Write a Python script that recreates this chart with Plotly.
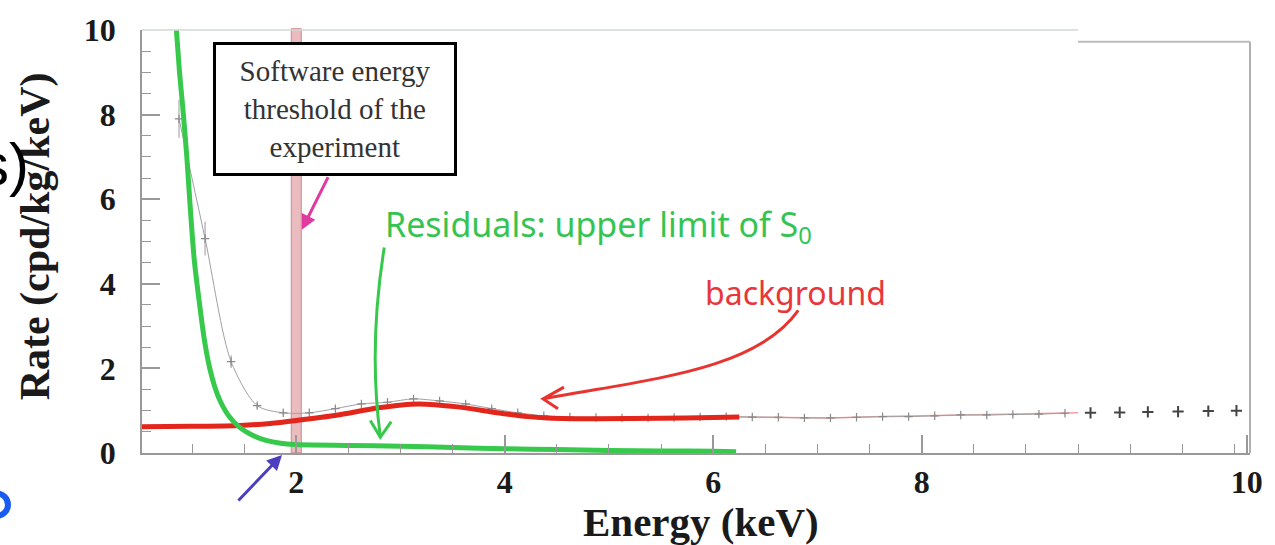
import plotly.graph_objects as go

# ---------------- data ----------------
# measured spectrum (grey points, 0.25 keV bins)
data_energy = [0.875, 1.125, 1.375, 1.625, 1.875, 2.125, 2.375, 2.625, 2.875, 3.125,
               3.375, 3.625, 3.875, 4.125, 4.375, 4.625, 4.875, 5.125, 5.375, 5.625,
               5.875, 6.125, 6.375, 6.625, 6.875, 7.125, 7.375, 7.625, 7.875, 8.125,
               8.375, 8.625, 8.875, 9.125, 9.375]
data_rate = [7.9, 5.07, 2.16, 1.12, 0.95, 0.95, 1.05, 1.16, 1.2, 1.28,
             1.23, 1.16, 1.05, 0.95, 0.88, 0.85, 0.84, 0.83, 0.83, 0.84,
             0.85, 0.86, 0.85, 0.845, 0.83, 0.83, 0.845, 0.86, 0.86, 0.88,
             0.9, 0.9, 0.91, 0.92, 0.94]
data_err = [0.45, 0.4, 0.15, 0.06, 0.05, 0.04, 0.04, 0.04, 0.04, 0.04,
            0.04, 0.04, 0.04, 0.04, 0.03, 0.03, 0.03, 0.03, 0.03, 0.03,
            0.03, 0.03, 0.03, 0.03, 0.03, 0.03, 0.03, 0.03, 0.03, 0.03,
            0.03, 0.03, 0.03, 0.03, 0.03]

# points of the spliced right-hand part of the picture
right_energy = [9.62, 9.9, 10.17, 10.46, 10.75, 11.02]
right_rate = [0.95, 0.96, 0.97, 0.98, 0.99, 1.0]

# background fit (thick red)
bkg_energy = [0.52, 1.0, 1.46, 1.75, 2.0, 2.4, 2.79, 3.17, 3.55, 3.93, 4.22, 4.41, 4.89, 5.5, 6.0, 6.25]
bkg_rate = [0.62, 0.63, 0.65, 0.7, 0.77, 0.9, 1.07, 1.16, 1.09, 0.95, 0.86, 0.83, 0.81, 0.82, 0.84, 0.85]

# background continuation (thin)
bkg_ext_energy = [6.25, 6.625, 7.125, 7.625, 8.125, 8.625, 9.125, 9.5]
bkg_ext_rate = [0.85, 0.845, 0.83, 0.86, 0.88, 0.9, 0.92, 0.95]

# residuals, upper limit of S0 (thick green)
res_energy = [0.85, 0.88, 0.91, 0.95, 0.98, 1.02, 1.07, 1.12, 1.17, 1.22, 1.27, 1.36, 1.46,
              1.58, 1.71, 1.85, 1.98, 2.5, 3.0, 3.5, 4.0, 4.5, 5.0, 5.5, 6.0, 6.22]
res_rate = [10.0, 9.0, 8.2, 7.0, 5.9, 4.6, 3.56, 2.65, 2.0, 1.55, 1.23, 0.85, 0.6,
            0.42, 0.3, 0.23, 0.2, 0.18, 0.16, 0.13, 0.1, 0.08, 0.06, 0.05, 0.04, 0.03]

threshold_keV = 2.0
threshold_halfwidth = 0.048

x_tickvals = [2, 4, 6, 8, 11.12]
x_ticktext = ["2", "4", "6", "8", "10"]
y_tickvals = [0, 2, 4, 6, 8, 10]
y_ticktext = ["0", "2", "4", "6", "8", "10"]

# ---------------- layout helpers (pixel -> paper) ----------------
W, H = 1275, 545
L, R, T, B = 142, 17, 23, 92
PW, PH = W - L - R, H - T - B


def px(x):
    return (x - L) / PW


def py(y):
    return (H - B - y) / PH


def P(x, y):
    return f"{px(x):.5f},{py(y):.5f}"


serif = "Liberation Serif"
sans = "Noto Sans"

fig = go.Figure()

# thin background continuation
fig.add_trace(go.Scatter(x=bkg_ext_energy, y=bkg_ext_rate, mode="lines",
                         line=dict(color="#f2a0a0", width=1.5), hoverinfo="skip"))
# measured data
fig.add_trace(go.Scatter(x=data_energy, y=data_rate, mode="lines+markers",
                         line=dict(color="#a0a0a0", width=1, shape="spline", smoothing=0.8),
                         marker=dict(symbol="cross-thin", size=6, line=dict(color="#8a8a8a", width=1.2)),
                         error_y=dict(type="data", array=data_err, color="#9a9a9a", thickness=1, width=0)))
# right part points
fig.add_trace(go.Scatter(x=right_energy, y=right_rate, mode="markers",
                         marker=dict(symbol="cross-thin", size=8, line=dict(color="#444", width=2))))
# background
fig.add_trace(go.Scatter(x=bkg_energy, y=bkg_rate, mode="lines",
                         line=dict(color="#e3261c", width=5, shape="spline", smoothing=0.8)))
# residuals
fig.add_trace(go.Scatter(x=res_energy, y=res_rate, mode="lines",
                         line=dict(color="#37c94b", width=5, shape="spline", smoothing=0.6)))

shapes = []
# threshold band
shapes.append(dict(type="rect", xref="x", yref="paper",
                   x0=threshold_keV - threshold_halfwidth, x1=threshold_keV + threshold_halfwidth,
                   y0=0, y1=1.003, fillcolor="rgba(222,150,156,0.65)",
                   line=dict(color="#c98a90", width=1), layer="below"))
# frame pieces
shapes.append(dict(type="line", xref="x", yref="paper", x0=0.52, x1=9.5, y0=1, y1=1,
                   line=dict(color="#d3d9d3", width=1.5)))
shapes.append(dict(type="line", xref="x", yref="paper", x0=9.5, x1=11.15, y0=py(35), y1=py(35),
                   line=dict(color="#bcbcbc", width=2)))
shapes.append(dict(type="line", xref="paper", yref="paper", x0=1, x1=1, y0=0, y1=py(35),
                   line=dict(color="#b0b0b0", width=2)))
# green curved arrow
shapes.append(dict(type="path", xref="paper", yref="paper",
                   path=f"M {P(386,244)} Q {P(370,345)} {P(382,436)}",
                   line=dict(color="#37c94b", width=3)))
shapes.append(dict(type="path", xref="paper", yref="paper",
                   path=f"M {P(372,420)} L {P(382,437)} L {P(393,421)}",
                   line=dict(color="#37c94b", width=3)))
# red curved arrow
shapes.append(dict(type="path", xref="paper", yref="paper",
                   path=f"M {P(803,308)} C {P(760,370)} {P(650,378)} {P(546,398)}",
                   line=dict(color="#e8332f", width=3)))
shapes.append(dict(type="path", xref="paper", yref="paper",
                   path=f"M {P(567,386)} L {P(546,398)} L {P(561,408)}",
                   line=dict(color="#e8332f", width=3)))
# blue fragment at bottom-left
shapes.append(dict(type="circle", xref="paper", yref="paper",
                   x0=px(-16), x1=px(7), y0=py(517), y1=py(494),
                   line=dict(color="#1a5cf2", width=6), fillcolor="rgba(0,0,0,0)"))

annotations = []
# threshold box
annotations.append(dict(xref="paper", yref="paper", x=px(336.5), y=py(103),
                        xanchor="center", yanchor="middle",
                        text="Software energy<br>threshold of the<br>experiment",
                        showarrow=False, font=dict(family=serif, size=29, color="#333"),
                        bgcolor="white", bordercolor="black", borderwidth=3, borderpad=0,
                        width=238, height=128, align="center"))
# magenta arrow
annotations.append(dict(xref="paper", yref="paper", x=px(303), y=py(226), text="",
                        showarrow=True, ax=27, ay=-54, arrowhead=2, arrowsize=1,
                        arrowwidth=3, arrowcolor="#e03aa0"))
# purple arrow
annotations.append(dict(xref="paper", yref="paper", x=px(283), y=py(455), text="",
                        showarrow=True, ax=-45, ay=47, arrowhead=2, arrowsize=1,
                        arrowwidth=3, arrowcolor="#4b3fc0"))
# green label
annotations.append(dict(xref="paper", yref="paper", x=px(385), y=py(222), xanchor="left",
                        yanchor="middle", showarrow=False,
                        text="Residuals: upper limit of S<sub>0</sub>",
                        font=dict(family=sans, size=34, color="#35c452")))
# red label
annotations.append(dict(xref="paper", yref="paper", x=px(800), y=py(290), xanchor="center",
                        yanchor="middle", showarrow=False, text="background",
                        font=dict(family=sans, size=32, color="#e8363b")))
# axis titles
annotations.append(dict(xref="paper", yref="paper", x=px(705), y=py(523), xanchor="center",
                        yanchor="middle", showarrow=False, text="Energy (keV)",
                        font=dict(family=serif, size=41, color="#1a1a1a", weight="bold")))
annotations.append(dict(xref="paper", yref="paper", x=px(35), y=py(233), xanchor="center",
                        yanchor="middle", showarrow=False, text="Rate (cpd/kg/keV)",
                        textangle=-90,
                        font=dict(family=serif, size=42, color="#1a1a1a", weight="bold")))
# slide fragment
annotations.append(dict(xref="paper", yref="paper", x=px(30), y=py(160), xanchor="right",
                        yanchor="middle", showarrow=False, text="s)",
                        font=dict(family="Liberation Sans", size=60, color="black")))

tickfont = dict(family=serif, size=32, color="#1a1a1a", weight="bold")

fig.update_layout(
    width=W, height=H, margin=dict(l=L, r=R, t=T, b=B),
    paper_bgcolor="white", plot_bgcolor="white", showlegend=False,
    shapes=shapes, annotations=annotations,
    xaxis=dict(range=[0.52, 11.15], showline=True, linecolor="#999", linewidth=1.5,
               ticks="inside", ticklen=18, tickwidth=1.5, tickcolor="#999",
               tickmode="array", tickvals=x_tickvals, ticktext=x_ticktext,
               tickfont=tickfont, ticklabelstandoff=0,
               minor=dict(dtick=0.5, tick0=0, ticks="inside", ticklen=9, tickcolor="#999", tickwidth=1.2),
               showgrid=False, zeroline=False),
    yaxis=dict(range=[0, 10], showline=True, linecolor="#999", linewidth=1.5,
               ticks="inside", ticklen=18, tickwidth=1.5, tickcolor="#999",
               tickmode="array", tickvals=y_tickvals, ticktext=y_ticktext,
               tickfont=tickfont, ticklabelstandoff=18,
               minor=dict(dtick=0.5, tick0=0, ticks="inside", ticklen=9, tickcolor="#999", tickwidth=1.2),
               showgrid=False, zeroline=False),
)

fig.write_html("out.html")
